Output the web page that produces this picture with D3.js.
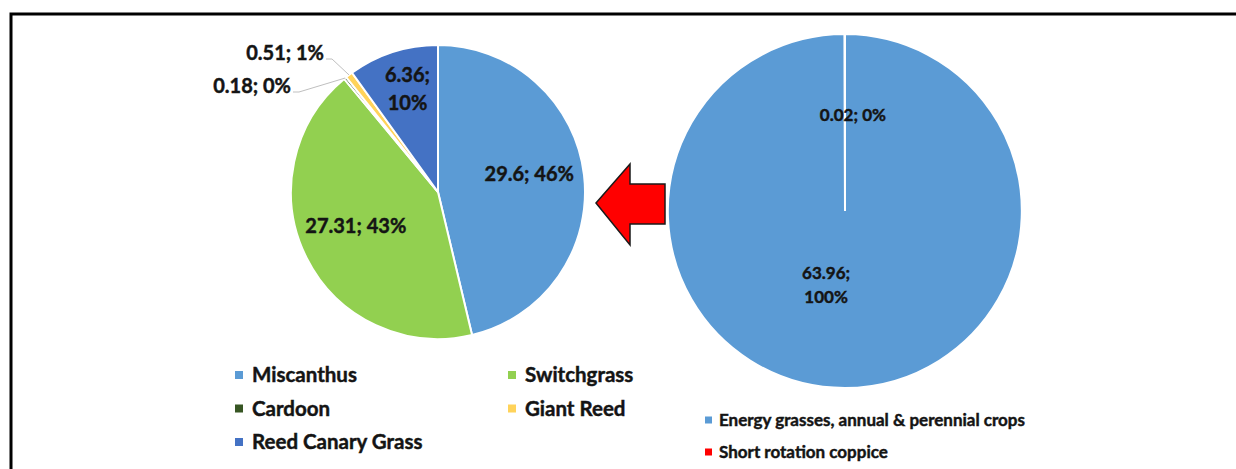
<!DOCTYPE html>
<html>
<head>
<meta charset="utf-8">
<script src="https://cdn.jsdelivr.net/npm/d3@7"></script>
<style>
  body { margin: 0; background: #fff; }
  svg { display: block; font-family: Lato, "Open Sans", sans-serif; font-weight: bold; }
  .lbl, .legend text { fill: #141414; stroke: #141414; stroke-width: 0.45; paint-order: stroke; }
</style>
</head>
<body>
<svg width="1236" height="469"></svg>
<script>
//* data
const cropNames = ["Miscanthus", "Switchgrass", "Cardoon", "Giant Reed", "Reed Canary Grass"];
const cropValues = [29.6, 27.31, 0.18, 0.51, 6.36];
const cropPercents = ["46%", "43%", "0%", "1%", "10%"];
const cropColors = ["#5b9bd5", "#92d050", "#375623", "#ffd35a", "#4472c4"];

const groupNames = ["Energy grasses, annual & perennial crops", "Short rotation coppice"];
const groupValues = [63.96, 0.02];
const groupPercents = ["100%", "0%"];
const groupColors = ["#5b9bd5", "#ff0000"];

const svg = d3.select("svg");

//* frame
svg.append("path")
	.attr("d", "M11,469 V14 H1236")
	.attr("fill", "none")
	.attr("stroke", "#000")
	.attr("stroke-width", 3);

const pie = d3.pie().sort(null).value((d) => d.value);

//* left pie
const leftR = 147;
const left = svg.append("g").attr("transform", "translate(438,192)");
const leftData = pie(cropNames.map((n, i) => ({ name: n, value: cropValues[i], pct: cropPercents[i], color: cropColors[i] })));
const leftArc = d3.arc().innerRadius(0).outerRadius(leftR);

left.selectAll("path.slice")
	.data(leftData)
	.enter()
	.append("path")
	.attr("class", "slice")
	.attr("d", leftArc)
	.attr("fill", (d) => d.data.color)
	.attr("stroke", "#fff")
	.attr("stroke-width", 2);

const share = (d) => (d.endAngle - d.startAngle) / (2 * Math.PI);
const midA = (d) => (d.startAngle + d.endAngle) / 2;
const inside = leftData.filter((d) => share(d) > 0.05);
const outside = leftData.filter((d) => share(d) <= 0.05);

// inside labels
inside.forEach((d) => {
	const rr = share(d) < 0.15 ? leftR * 0.72 : leftR * 0.625;
	const x = rr * Math.sin(midA(d));
	const y = -rr * Math.cos(midA(d));
	const t = left.append("text")
		.attr("class", "lbl")
		.attr("text-anchor", "middle")
		.attr("font-size", 20);
	if (share(d) < 0.15) {
		t.append("tspan").attr("x", x + 2).attr("y", y - 9).text(d.data.value + ";");
		t.append("tspan").attr("x", x + 2).attr("y", y + 19).text(d.data.pct);
	} else {
		t.attr("x", x).attr("y", y).text(d.data.value + "; " + d.data.pct);
	}
});

// outside labels with leader lines (stacked to the upper left)
const outsideOffsets = { "Giant Reed": [-112, -133], "Cardoon": [-145, -100] };
outside.forEach((d) => {
	const a = midA(d);
	const px = leftR * Math.sin(a);
	const py = -leftR * Math.cos(a);
	const [lx, ly] = outsideOffsets[d.data.name];
	left.append("polyline")
		.attr("points", [[lx, ly], [lx + 6, ly], [px, py]].map((p) => p.join(",")).join(" "))
		.attr("fill", "none")
		.attr("stroke", "#bfbfbf")
		.attr("stroke-width", 1);
	left.append("text")
		.attr("class", "lbl")
		.attr("x", lx - 2)
		.attr("y", ly + 1)
		.attr("text-anchor", "end")
		.attr("font-size", 20)
		.text(d.data.value + "; " + d.data.pct);
});

//* right pie
const rightR = 177;
const right = svg.append("g").attr("transform", "translate(845,211)");
const rightData = pie(groupNames.map((n, i) => ({ name: n, value: groupValues[i], pct: groupPercents[i], color: groupColors[i] })));
const rightArc = d3.arc().innerRadius(0).outerRadius(rightR);

right.selectAll("path.slice")
	.data(rightData)
	.enter()
	.append("path")
	.attr("class", "slice")
	.attr("d", rightArc)
	.attr("fill", (d) => d.data.color)
	.attr("stroke", "#fff")
	.attr("stroke-width", 2);

rightData.forEach((d) => {
	if (share(d) > 0.5) {
		const rr = rightR * 0.42;
		const x = rr * Math.sin(midA(d)) - 19;
		const y = -rr * Math.cos(midA(d));
		const t = right.append("text").attr("class", "lbl").attr("text-anchor", "middle").attr("font-size", 17);
		t.append("tspan").attr("x", x).attr("y", y - 6).text(d.data.value + ";");
		t.append("tspan").attr("x", x).attr("y", y + 18).text(d.data.pct);
	} else {
		const rr = rightR * 0.55;
		const x = rr * Math.sin(midA(d)) + 8;
		const y = -rr * Math.cos(midA(d));
		right.append("text").attr("class", "lbl").attr("text-anchor", "middle").attr("font-size", 17)
			.attr("x", x).attr("y", y + 7).text(d.data.value + "; " + d.data.pct);
	}
});

//* arrow
svg.append("path")
	.attr("d", "M596,203 L630,164 L630,184 L665,184 L665,224 L630,224 L630,245 Z")
	.attr("fill", "#ff0000")
	.attr("stroke", "#1a1a1a")
	.attr("stroke-width", 1.5)
	.attr("stroke-linejoin", "miter");

//* left legend
const legL = svg.append("g").attr("class", "legend");
const legLItems = legL.selectAll("g")
	.data(cropNames)
	.enter()
	.append("g")
	.attr("transform", (_, i) => `translate(${i % 2 ? 508 : 235}, ${375 + Math.floor(i / 2) * 33.5})`);
legLItems.append("rect")
	.attr("x", 0).attr("y", -4).attr("width", 8).attr("height", 8)
	.attr("fill", (_, i) => cropColors[i]);
legLItems.append("text")
	.attr("x", 17).attr("y", 7)
	.attr("font-size", 20.5)
	.text((d) => d);

//* right legend
const legR = svg.append("g").attr("class", "legend");
const legRItems = legR.selectAll("g")
	.data(groupNames)
	.enter()
	.append("g")
	.attr("transform", (_, i) => `translate(705, ${420 + i * 32})`);
legRItems.append("rect")
	.attr("x", 0).attr("y", -3.5).attr("width", 7).attr("height", 7)
	.attr("fill", (_, i) => groupColors[i]);
legRItems.append("text")
	.attr("x", 14).attr("y", 6)
	.attr("font-size", 17)
	.text((d) => d);
</script>
</body>
</html>
